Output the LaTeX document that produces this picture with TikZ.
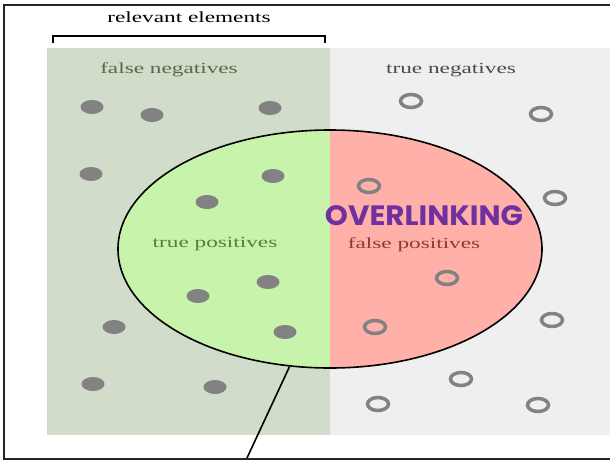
\documentclass[tikz,border=0pt]{standalone}
\usepackage{fontspec}
\setmainfont{Liberation Serif}
\newfontfamily\olfont{Poppins Bold}
\usetikzlibrary{shapes.geometric}
\definecolor{fnbg}{HTML}{D1DCCA}
\definecolor{tnbg}{HTML}{EFEFEF}
\definecolor{tpfill}{HTML}{C8F3AA}
\definecolor{fpfill}{HTML}{FFB0A8}
\definecolor{dotgray}{HTML}{828282}
\definecolor{fncol}{HTML}{566A48}
\definecolor{tncol}{HTML}{4A4A4A}
\definecolor{tpcol}{HTML}{55803A}
\definecolor{fpcol}{HTML}{8E3B36}
\definecolor{olcol}{HTML}{7030A0}
\newcommand{\wide}[1]{\scalebox{1.5}[1]{#1}}
\tikzset{
  dot/.style={ellipse, fill=dotgray, minimum width=23pt, minimum height=14pt, inner sep=0pt},
  ring/.style={ellipse, draw=dotgray, line width=3.5pt, fill=none, minimum width=21pt, minimum height=13pt, inner sep=0pt},
  lab/.style={font=\fontsize{15.5}{17}\selectfont, inner sep=0pt},
  frame/.style={line width=1.8pt, black!85}
}
\begin{document}
\begin{tikzpicture}[x=1pt,y=-1pt]
\useasboundingbox (0,0) rectangle (610,461);
\fill[white] (0,0) rectangle (610,461);
% frame
\draw[frame] (610,5) -- (4,5) -- (4,459) -- (610,459);
% backgrounds
\fill[fnbg] (47,48) rectangle (330,435);
\fill[tnbg] (330,48) rectangle (610,435);
% bracket
\draw[line width=1.6pt] (53,43) -- (53,36) -- (325,36) -- (325,43);
\node[lab] (rel) at (189,17) {\wide{relevant elements}};
% ellipse halves
\begin{scope}
\clip (0,0) rectangle (330,461);
\fill[tpfill] (330,249) ellipse [x radius=212, y radius=119];
\end{scope}
\begin{scope}
\clip (330,0) rectangle (610,461);
\fill[fpfill] (330,249) ellipse [x radius=212, y radius=119];
\end{scope}
\node[ellipse, draw, line width=1.6pt, minimum width=424pt, minimum height=238pt, inner sep=0pt] (E) at (330,249) {};
\coordinate (tail) at (247,458);
\draw[line width=1.6pt] (E.251) -- (tail);
% labels
\node[lab, text=fncol] (fn) at (169,70) {\wide{false negatives}};
\node[lab, text=tncol] (tn) at (451,70) {\wide{true negatives}};
\node[lab, text=tpcol] (tp) at (215,244) {\wide{true positives}};
\node[lab, text=fpcol] (fp) at (414,244.5) {\wide{false positives}};
\node[inner sep=0pt, text=olcol, font=\olfont\fontsize{28}{31}\selectfont] (ol) at (424,216) {\scalebox{1.05}[1]{OVERLINKING}};
% relevant dots
\node[dot] (d1) at (92,107) {};
\node[dot] (d2) at (152,115) {};
\node[dot] (d3) at (270,108) {};
\node[dot] (d4) at (91,174) {};
\node[dot] (d5) at (273,176) {};
\node[dot] (d6) at (207,202) {};
\node[dot] (d7) at (268,282) {};
\node[dot] (d8) at (198,296) {};
\node[dot] (d9) at (285,332) {};
\node[dot] (d10) at (114,327) {};
\node[dot] (d11) at (93,384) {};
\node[dot] (d12) at (215,387) {};
% non-relevant rings
\node[ring] (r1) at (411,101) {};
\node[ring] (r2) at (541,114) {};
\node[ring] (r3) at (369,186) {};
\node[ring] (r4) at (555,198) {};
\node[ring] (r5) at (447,278) {};
\node[ring] (r6) at (375,327) {};
\node[ring] (r7) at (552,320) {};
\node[ring] (r8) at (461,379) {};
\node[ring] (r9) at (378,404) {};
\node[ring] (r10) at (538,405) {};
\end{tikzpicture}
\end{document}
